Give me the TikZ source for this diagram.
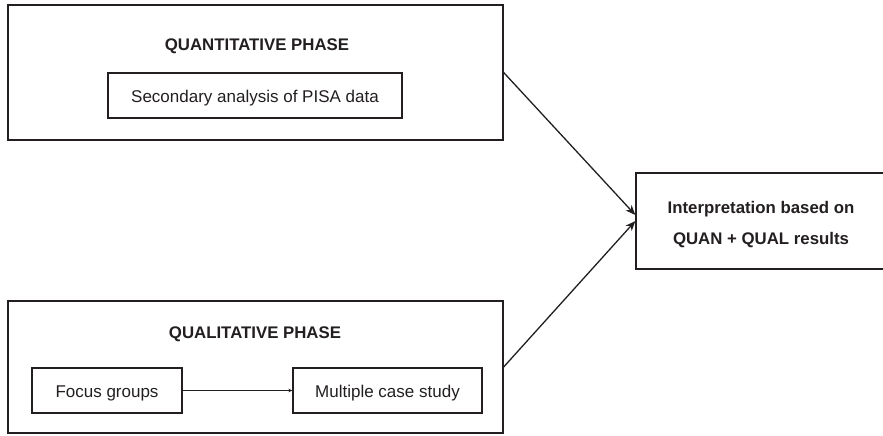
\documentclass[tikz,border=0pt]{standalone}
\usepackage{fontspec}
\setmainfont{Liberation Sans}
\usetikzlibrary{arrows.meta}
\definecolor{ink}{RGB}{35,31,32}
\begin{document}
\begin{tikzpicture}[x=1pt,y=-1pt,
  every node/.style={text=ink},
  box/.style={draw=ink, line width=1.3pt, rectangle, inner sep=0pt},
  label/.style={font=\fontsize{17}{20}\selectfont, text height=14pt, text depth=0pt},
  title/.style={font=\fontsize{16.8}{20}\selectfont\bfseries},
  bigarrow/.style={draw=ink, line width=1.3pt, -{Stealth[length=10pt,width=8pt]}},
  smallarrow/.style={draw=ink, line width=1.3pt, -{Stealth[length=4pt,width=3.5pt]}}]
\useasboundingbox (0,0) rectangle (883,436);
\fill[white] (0,0) rectangle (883,436);

% quantitative phase
\node[box, minimum width=495pt, minimum height=135pt] (quan) at (255.5,72.5) {};
\node[title] (quantitle) at (257,46) {QUANTITATIVE PHASE};
\node[box, label, minimum width=294pt, minimum height=45pt] (pisa) at (255,95.5) {Secondary analysis of PISA data};

% qualitative phase
\node[box, minimum width=495pt, minimum height=132pt] (qual) at (255.5,367) {};
\node[title] (qualtitle) at (255,334) {QUALITATIVE PHASE};
\node[box, label, minimum width=150pt, minimum height=45pt] (focus) at (107,390.5) {Focus groups};
\node[box, label, minimum width=189pt, minimum height=45pt] (cases) at (387.5,390.5) {Multiple case study};
\draw[smallarrow] (focus) -- (cases);

% interpretation
\node[box, minimum width=250pt, minimum height=96pt, align=center,
      font=\fontsize{16.8}{31}\selectfont\bfseries] (interp) at (761,221)
      {\rule{0pt}{20pt}Interpretation based on\\QUAN + QUAL results};

\draw[bigarrow] (quan.east) -- ([yshift=6pt]interp.west);
\draw[bigarrow] (qual.east) -- (interp.west);
\end{tikzpicture}
\end{document}
